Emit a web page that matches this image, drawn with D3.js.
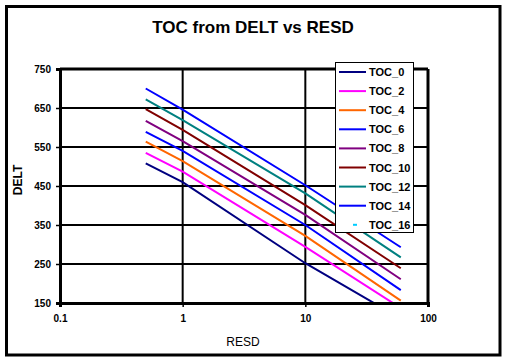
<!DOCTYPE html>
<html>
<head>
<meta charset="utf-8">
<script src="https://cdn.jsdelivr.net/npm/d3@7"></script>
<style>
  body { margin: 0; background: #fff; }
  text { font-family: "Liberation Sans", Arial, sans-serif; }
</style>
</head>
<body>
<div id="chart"></div>
<script>
// RESD values where each curve was read
var resd = [0.5, 1, 10, 60];

// DELT for each TOC curve (same order as resd)
var toc0 = [508, 460, 252, 110];
var toc2 = [535, 487, 294, 137];
var toc4 = [564, 514, 322, 156];
var toc6 = [589, 540, 350, 183];
var toc8 = [617, 565, 376, 211];
var toc10 = [647, 594, 401, 239];
var toc12 = [672, 619, 431, 267];
var toc14 = [700, 646, 452, 293];
var toc16 = []; // nothing visible in the plot

var seriesNames = ["TOC_0", "TOC_2", "TOC_4", "TOC_6", "TOC_8", "TOC_10", "TOC_12", "TOC_14", "TOC_16"];
var seriesValues = [toc0, toc2, toc4, toc6, toc8, toc10, toc12, toc14, toc16];
var seriesColors = ["#000080", "#ff00ff", "#ff6600", "#0000ff", "#800080", "#800000", "#008080", "#0000ff", "#00ccff"];

var yTicks = [150, 250, 350, 450, 550, 650, 750];
var xTicks = [0.1, 1, 10, 100];

var svg = d3.select("#chart")
  .append("svg")
  .attr("width", 506)
  .attr("height", 362);

// outer frame
svg.append("rect")
  .attr("x", 6.5).attr("y", 6.5)
  .attr("width", 493.5).attr("height", 348.5)
  .attr("fill", "#fff")
  .attr("stroke", "#000")
  .attr("stroke-width", 3);

var margin = { top: 69, left: 60 };
var width = 368, height = 234;

var x = d3.scaleLog().domain([0.1, 100]).range([0, width]);
var y = d3.scaleLinear().domain([150, 750]).range([height, 0]);

var g = svg.append("g")
  .attr("transform", "translate(" + margin.left + "," + margin.top + ")");

svg.append("defs").append("clipPath")
  .attr("id", "clip")
  .append("rect")
  .attr("x", 0).attr("y", 0)
  .attr("width", width).attr("height", height);

// horizontal grid lines
g.selectAll(".hgrid")
  .data(yTicks.slice(1, -1))
  .enter()
  .append("line")
  .attr("x1", 0).attr("x2", width)
  .attr("y1", function (d) { return y(d); })
  .attr("y2", function (d) { return y(d); })
  .attr("stroke", "#000")
  .attr("stroke-width", 2);

// vertical grid lines
g.selectAll(".vgrid")
  .data(xTicks.slice(1, -1))
  .enter()
  .append("line")
  .attr("y1", 0).attr("y2", height)
  .attr("x1", function (d) { return x(d); })
  .attr("x2", function (d) { return x(d); })
  .attr("stroke", "#000")
  .attr("stroke-width", 2);

// curves
var line = d3.line()
  .x(function (d) { return x(d[0]); })
  .y(function (d) { return y(d[1]); });

var curves = g.append("g").attr("clip-path", "url(#clip)");
seriesValues.forEach(function (vals, i) {
  if (!vals.length) return;
  var pts = vals.map(function (v, j) { return [resd[j], v]; });
  curves.append("path")
    .datum(pts)
    .attr("fill", "none")
    .attr("stroke", seriesColors[i])
    .attr("stroke-width", 2)
    .attr("d", line);
});

// plot border: top and right
g.append("line")
  .attr("x1", 0).attr("x2", width).attr("y1", 0).attr("y2", 0)
  .attr("stroke", "#000").attr("stroke-width", 3);
g.append("line")
  .attr("x1", width).attr("x2", width).attr("y1", 0).attr("y2", height)
  .attr("stroke", "#000").attr("stroke-width", 3);

// axes
var yAxis = g.append("g")
  .call(d3.axisLeft(y).tickValues(yTicks).tickSize(4).tickPadding(5).tickFormat(d3.format("d")));
var xAxis = g.append("g")
  .attr("transform", "translate(0," + height + ")")
  .call(d3.axisBottom(x).tickValues(xTicks).tickSize(4).tickPadding(8).tickFormat(function (d) { return String(d); }));

[yAxis, xAxis].forEach(function (ax) {
  ax.select(".domain").attr("stroke-width", 3);
  ax.selectAll(".tick line").attr("stroke-width", 1.5);
  ax.selectAll("text")
    .attr("font-family", "Liberation Sans, Arial, sans-serif")
    .attr("font-size", "10px")
    .attr("font-weight", "bold")
    .attr("fill", "#000");
});

// title
svg.append("text")
  .attr("x", 253).attr("y", 33)
  .attr("text-anchor", "middle")
  .attr("font-size", "17px")
  .attr("font-weight", "bold")
  .text("TOC from DELT vs RESD");

// axis titles
svg.append("text")
  .attr("transform", "translate(22,180) rotate(-90)")
  .attr("text-anchor", "middle")
  .attr("font-size", "12px")
  .attr("font-weight", "bold")
  .text("DELT");

svg.append("text")
  .attr("x", 243).attr("y", 346)
  .attr("text-anchor", "middle")
  .attr("font-size", "12px")
  .text("RESD");

// legend
var legend = svg.append("g").attr("transform", "translate(335,62)");
legend.append("rect")
  .attr("x", 0.5).attr("y", 0.5)
  .attr("width", 78).attr("height", 170)
  .attr("fill", "#fff")
  .attr("stroke", "#000")
  .attr("stroke-width", 1);

seriesNames.forEach(function (name, i) {
  var cy = 10 + i * 19.1;
  if (seriesValues[i].length) {
    legend.append("line")
      .attr("x1", 4).attr("x2", 31)
      .attr("y1", cy).attr("y2", cy)
      .attr("stroke", seriesColors[i])
      .attr("stroke-width", 2);
  } else {
    legend.append("line")
      .attr("x1", 18).attr("x2", 22)
      .attr("y1", cy).attr("y2", cy)
      .attr("stroke", seriesColors[i])
      .attr("stroke-width", 2);
  }
  legend.append("text")
    .attr("x", 34).attr("y", cy + 4)
    .attr("font-size", "11px")
    .attr("font-weight", "bold")
    .text(name);
});
</script>
</body>
</html>
